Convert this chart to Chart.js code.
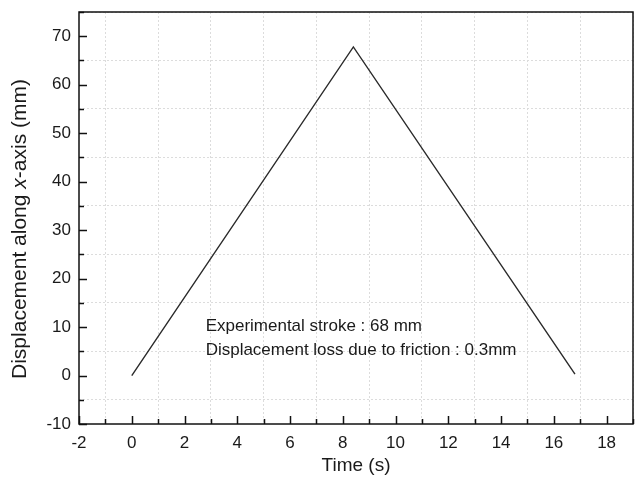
<!DOCTYPE html>
<html>
<head>
<meta charset="utf-8">
<script src="https://cdn.jsdelivr.net/npm/chart.js@4"></script>
<style>
  body { margin: 0; background: #fff; }
</style>
</head>
<body>
<canvas id="strokeChart" width="640" height="477"></canvas>
<script>
// data
var timeValues = [0, 8.4, 16.8];
var displacementValues = [0, 67.8, 0.3];
var noteLines = ["Experimental stroke : 68 mm", "Displacement loss due to friction : 0.3mm"];

var FONT = "'Liberation Sans', Arial, sans-serif";

function isMinor(v, major) {
  return Math.abs(Math.round(v)) % major !== 0;
}

// frame, inward ticks, axis titles and the note
var framePlugin = {
  id: 'frame',
  afterDraw: function(chart) {
    var ctx = chart.ctx;
    var area = chart.chartArea;
    var xs = chart.scales.x, ys = chart.scales.y;
    ctx.save();
    ctx.strokeStyle = '#111';
    ctx.lineWidth = 1.5;

    // ticks pointing into the plot
    ctx.beginPath();
    xs.ticks.forEach(function(t) {
      var px = Math.round(xs.getPixelForValue(t.value)) + 0.5;
      var len = isMinor(t.value, 2) ? 5 : 8;
      ctx.moveTo(px, area.bottom);
      ctx.lineTo(px, area.bottom - len);
    });
    ys.ticks.forEach(function(t) {
      var py = Math.round(ys.getPixelForValue(t.value)) + 0.5;
      var len = isMinor(t.value, 10) ? 5 : 8;
      ctx.moveTo(area.left, py);
      ctx.lineTo(area.left + len, py);
    });
    ctx.stroke();

    ctx.strokeRect(area.left, area.top, area.right - area.left, area.bottom - area.top);

    ctx.fillStyle = '#1a1a1a';
    // x title
    ctx.font = '19px ' + FONT;
    ctx.textAlign = 'center';
    ctx.textBaseline = 'middle';
    ctx.fillText('Time (s)', (area.left + area.right) / 2, 466);

    // y title with italic x
    var parts = [
      ['Displacement along ', 'normal'],
      ['x', 'italic'],
      ['-axis (mm)', 'normal']
    ];
    var size = 21;
    var total = 0;
    parts.forEach(function(p) {
      ctx.font = p[1] + ' ' + size + 'px ' + FONT;
      p.push(ctx.measureText(p[0]).width);
      total += p[2];
    });
    ctx.translate(20, 229);
    ctx.rotate(-Math.PI / 2);
    ctx.textAlign = 'left';
    var pos = -total / 2;
    parts.forEach(function(p) {
      ctx.font = p[1] + ' ' + size + 'px ' + FONT;
      ctx.fillText(p[0], pos, 0);
      pos += p[2];
    });
    ctx.restore();

    // note in the plot
    ctx.save();
    ctx.fillStyle = '#1a1a1a';
    ctx.font = '17px ' + FONT;
    ctx.textAlign = 'left';
    ctx.textBaseline = 'alphabetic';
    var nx = xs.getPixelForValue(2.8);
    ctx.fillText(noteLines[0], nx, 331);
    ctx.fillText(noteLines[1], nx, 355);
    ctx.restore();
  }
};

var points = [];
for (var i = 0; i < timeValues.length; i++) {
  points.push({ x: timeValues[i], y: displacementValues[i] });
}

var strokeCanvas = document.getElementById("strokeChart").getContext('2d');
var strokeChart = new Chart(strokeCanvas, {
  type: 'scatter',
  data: {
    datasets: [{
      data: points,
      showLine: true,
      borderColor: '#2a2a2a',
      borderWidth: 1.4,
      pointRadius: 0,
      fill: false
    }]
  },
  options: {
    responsive: false,
    animation: false,
    layout: { padding: { top: 12, right: 7, left: 0, bottom: 0 } },
    plugins: { legend: { display: false }, tooltip: { enabled: false } },
    scales: {
      x: {
        type: 'linear',
        min: -2,
        max: 19,
        afterFit: function(scale) {
          scale.height = 53;
          scale.paddingLeft = 0;
          scale.paddingRight = 0;
        },
        ticks: {
          stepSize: 1,
          autoSkip: false,
          maxRotation: 0,
          padding: 9,
          color: '#1a1a1a',
          font: { size: 17, family: FONT },
          callback: function(v) { return isMinor(v, 2) ? '' : String(v); }
        },
        grid: {
          drawTicks: false,
          lineWidth: 1,
          color: function(c) {
            return c.tick && isMinor(c.tick.value, 2) ? '#dcdcdc' : 'rgba(0,0,0,0)';
          }
        },
        border: { display: false, dash: [2, 2] }
      },
      y: {
        type: 'linear',
        min: -10,
        max: 75,
        afterFit: function(scale) {
          scale.width = 79;
          scale.paddingTop = 0;
          scale.paddingBottom = 0;
        },
        ticks: {
          stepSize: 5,
          autoSkip: false,
          padding: 8,
          color: '#1a1a1a',
          font: { size: 17, family: FONT },
          callback: function(v) { return isMinor(v, 10) ? '' : String(v); }
        },
        grid: {
          drawTicks: false,
          lineWidth: 1,
          color: function(c) {
            return c.tick && isMinor(c.tick.value, 10) ? '#dcdcdc' : 'rgba(0,0,0,0)';
          }
        },
        border: { display: false, dash: [2, 2] }
      }
    }
  },
  plugins: [framePlugin]
});
</script>
</body>
</html>
